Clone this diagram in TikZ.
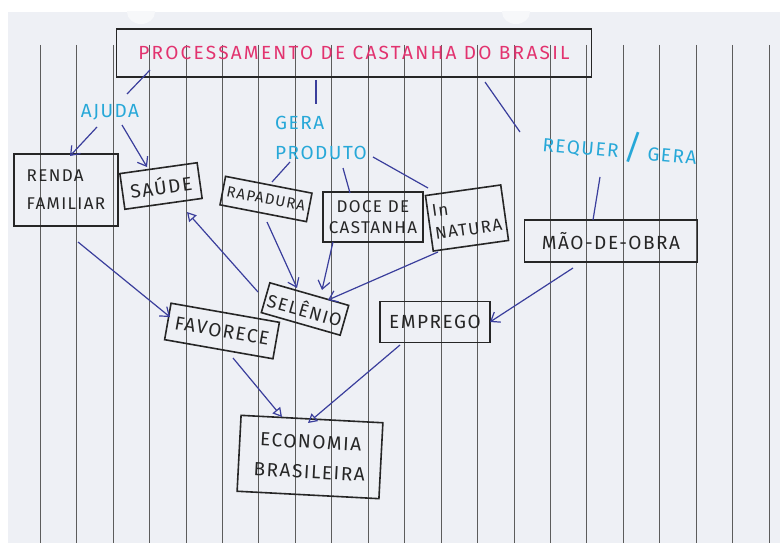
\documentclass[tikz,border=0pt]{standalone}
\usepackage{fontspec}
\setmainfont{Fira Sans}
\newfontfamily\handfont{Fira Sans}[LetterSpace=8]
\newfontfamily\widehand{Fira Sans}[LetterSpace=12]
\usetikzlibrary{arrows.meta,calc}
\definecolor{paper}{HTML}{EEF0F5}
\definecolor{rule}{HTML}{5C5C5C}
\definecolor{ink}{HTML}{262626}
\definecolor{pen}{HTML}{3A3E9C}
\definecolor{cyanpen}{HTML}{27A8D8}
\definecolor{magpen}{HTML}{E2336F}
\begin{document}
\begin{tikzpicture}[x=1pt,y=-1pt,
  box/.style={draw=ink,line width=1.6pt,text=ink,inner sep=0pt,
    font={\handfont\fontsize{19}{25}\selectfont},align=center},
  tag/.style={text=cyanpen,inner sep=0pt,font={\handfont\fontsize{19}{30}\selectfont},align=left},
  link/.style={draw=pen,line width=1.2pt},
  vtip/.style={link,-{Straight Barb[length=8pt,width=12pt,line width=1.2pt]}},
  otip/.style={link,-{Triangle[open,length=9pt,width=10pt,line width=1.2pt]}}
]
\useasboundingbox (0,0) rectangle (780,543);
\fill[white] (0,0) rectangle (780,543);
% the sheet of paper, its punch holes and ruling
\fill[paper] (8,12) rectangle (780,543);
\begin{scope}
  \clip (8,12) rectangle (780,543);
  \fill[white!55!paper] (141,12) ellipse[x radius=14,y radius=12];
  \fill[white!55!paper] (516,12) ellipse[x radius=14,y radius=12];
\end{scope}
\foreach \i in {0,...,20}
  \draw[rule,line width=0.6pt] ({40+36.45*\i},45) -- ({40+36.45*\i},543);

% concept boxes
\node[box,text=magpen,font={\widehand\fontsize{19}{22}\selectfont},
  minimum width=475pt,minimum height=48pt] (title) at (354,53)
  {PROCESSAMENTO DE CASTANHA DO BRASIL};
\node[box,minimum width=104pt,minimum height=72pt,align=left,
  font={\handfont\fontsize{17}{28}\selectfont}] (renda) at (66,190)
  {RENDA\\FAMILIAR};
\node[box,minimum width=78pt,minimum height=36pt,rotate=8] (saude) at (161,186) {SAÚDE};
\node[box,minimum width=88pt,minimum height=29pt,rotate=-11,
  font={\handfont\fontsize{15}{18}\selectfont}] (rapadura) at (266,199) {RAPADURA};
\node[box,minimum width=100pt,minimum height=50pt,
  font={\handfont\fontsize{17}{21}\selectfont}] (doce) at (373,217) {DOCE DE\\CASTANHA};
\node[box,minimum width=76pt,minimum height=56pt,rotate=8,align=left,
  font={\handfont\fontsize{17}{23}\selectfont}] (natura) at (467,218) {In\\NATURA};
\node[box,minimum width=173pt,minimum height=42pt] (mao) at (611,241) {MÃO-DE-OBRA};
\node[box,minimum width=82pt,minimum height=31pt,rotate=-16,
  font={\handfont\fontsize{18}{22}\selectfont}] (selenio) at (305,309) {SELÊNIO};
\node[box,minimum width=110pt,minimum height=37pt,rotate=-10] (favorece) at (222,331) {FAVORECE};
\node[box,minimum width=110pt,minimum height=41pt] (emprego) at (435,322) {EMPREGO};
\node[box,minimum width=142pt,minimum height=76pt,rotate=-3,
  font={\handfont\fontsize{19}{30}\selectfont}] (economia) at (310,457)
  {ECONOMIA\\BRASILEIRA};

% linking phrases
\node[tag] (ajuda) at (110,112) {AJUDA};
\node[tag] (gera) at (321,138) {GERA\\PRODUTO};
\node[tag,rotate=-5] (requer) at (620,146)
  {REQUER{\fontsize{34}{34}\selectfont\,/\,}GERA};

% plain links from the title and the phrases
\draw[link] ($(title)+(-204,17)$) -- ($(ajuda)+(17,-18)$);
\draw[link] ($(title)+(-38,27)$) -- ($(gera)+(-5,-34)$);
\draw[link] ($(title)+(131,29)$) -- ($(requer)+(-100,-14)$);
\draw[link] ($(gera)+(-31,24)$) -- ($(rapadura)+(6,-17)$);
\draw[link] ($(gera)+(22,30)$) -- ($(doce)+(-23,-24)$);
\draw[link] ($(gera)+(52,19)$) -- ($(natura)+(-39,-30)$);
\draw[link] ($(requer)+(-20,31)$) -- ($(mao)+(-18,-21)$);

% arrows
\draw[vtip] ($(ajuda)+(-13,15)$) -- ($(renda)+(4,-34)$);
\draw[vtip] ($(ajuda)+(12,13)$) -- ($(saude)+(-14,-19)$);
\draw[vtip] ($(renda)+(12,52)$) -- ($(favorece)+(-52,-14)$);
\draw[otip] ($(selenio)+(-47,-17)$) -- ($(saude)+(26,26)$);
\draw[vtip] ($(rapadura)+(1,23)$) -- ($(selenio)+(-8,-21)$);
\draw[vtip] ($(doce)+(-40,25)$) -- ($(selenio)+(17,-19)$);
\draw[vtip] ($(natura)+(-29,34)$) -- ($(selenio)+(23,-9)$);
\draw[vtip] ($(mao)+(-38,27)$) -- ($(emprego)+(55,0)$);
\draw[otip] ($(favorece)+(11,27)$) -- ($(economia)+(-28,-40)$);
\draw[otip] ($(emprego)+(-35,23)$) -- ($(economia)+(-2,-34)$);
\end{tikzpicture}
\end{document}
